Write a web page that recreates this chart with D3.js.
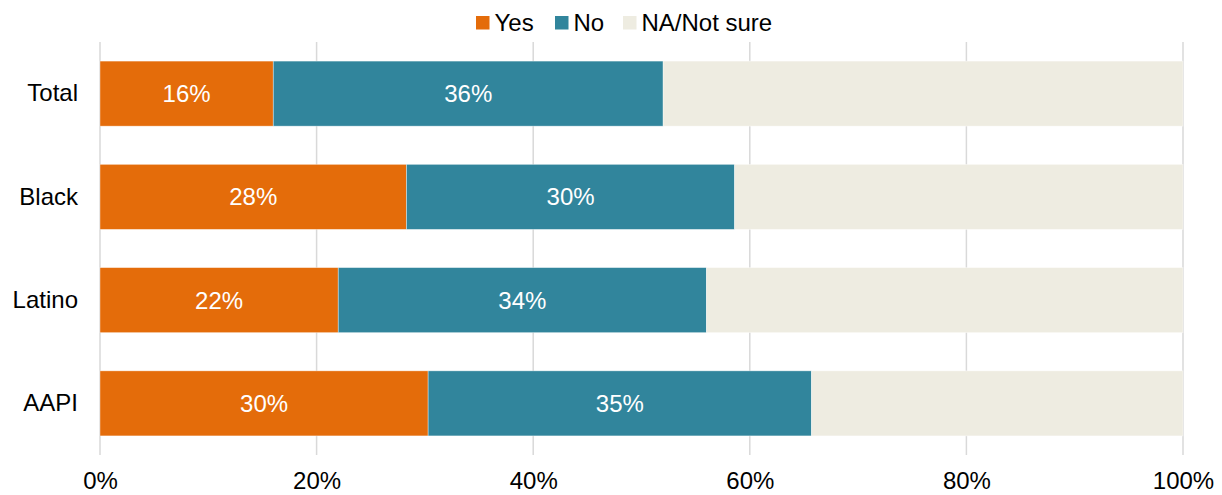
<!DOCTYPE html>
<html>
<head>
<meta charset="utf-8">
<script src="https://cdn.jsdelivr.net/npm/d3@7"></script>
<style>
  html, body { margin: 0; padding: 0; background: #fff; }
  svg { display: block; font-family: "Liberation Sans", Arial, sans-serif; }
</style>
</head>
<body>
<svg id="chart" width="1222" height="495"></svg>
<script>
// Survey responses by group (percent of respondents)
const categories = ["Total", "Black", "Latino", "AAPI"];
const seriesNames = ["Yes", "No", "NA/Not sure"];
const yesValues = [16, 28.3, 22, 30.3];
const noValues = [36, 30.3, 34, 35.4];
const naValues = categories.map((c, i) => 100 - yesValues[i] - noValues[i]);
const xTicks = [0, 20, 40, 60, 80, 100];
const colors = ["#E46C0A", "#31859C", "#EEECE1"];

const svg = d3.select("#chart");
const margin = { left: 100, right: 39, top: 42, bottom: 40 };
const W = 1222, H = 495;
const fontSize = 24;

const x = d3.scaleLinear().domain([0, 100]).range([margin.left, W - margin.right]);
const y = d3.scaleBand().domain(categories)
  .range([margin.top, H - margin.bottom])
  .paddingInner(0.37).paddingOuter(0.185);

// Vertical gridlines
svg.append("g")
  .selectAll("line")
  .data(xTicks)
  .join("line")
  .attr("x1", d => x(d)).attr("x2", d => x(d))
  .attr("y1", margin.top).attr("y2", H - margin.bottom)
  .attr("stroke", "#d9d9d9")
  .attr("stroke-width", 1.5);

// Stack rows
const rows = categories.map((c, i) => ({ cat: c, Yes: yesValues[i], No: noValues[i], "NA/Not sure": naValues[i] }));
const stack = d3.stack().keys(seriesNames)(rows);

const layers = svg.append("g").selectAll("g")
  .data(stack)
  .join("g")
  .attr("fill", (d, i) => colors[i]);

layers.selectAll("rect")
  .data(d => d)
  .join("rect")
  .attr("x", d => x(d[0]))
  .attr("width", d => x(d[1]) - x(d[0]))
  .attr("y", d => y(d.data.cat))
  .attr("height", y.bandwidth())
  .attr("stroke", "#ffffff")
  .attr("stroke-opacity", 0.5)
  .attr("stroke-width", 0.75);

// Value labels on Yes and No segments
stack.slice(0, 2).forEach(layer => {
  svg.append("g").selectAll("text")
    .data(layer)
    .join("text")
    .attr("x", d => (x(d[0]) + x(d[1])) / 2)
    .attr("y", d => y(d.data.cat) + y.bandwidth() / 2)
    .attr("dy", "0.35em")
    .attr("text-anchor", "middle")
    .attr("fill", "#ffffff")
    .attr("font-size", fontSize)
    .text(d => Math.round(d[1] - d[0]) + "%");
});

// Category labels
const yAxis = d3.axisLeft(y).tickSize(0).tickPadding(22);
svg.append("g")
  .attr("transform", `translate(${margin.left},0)`)
  .call(yAxis)
  .call(g => g.select(".domain").remove())
  .selectAll("text")
  .attr("font-size", fontSize)
  .attr("font-family", "Liberation Sans, Arial, sans-serif")
  .attr("fill", "#000");

// Percentage axis
const xAxis = d3.axisBottom(x).tickValues(xTicks).tickFormat(d => d + "%").tickSize(0).tickPadding(17);
svg.append("g")
  .attr("transform", `translate(0,${H - margin.bottom})`)
  .call(xAxis)
  .call(g => g.select(".domain").remove())
  .selectAll("text")
  .attr("font-size", fontSize)
  .attr("font-family", "Liberation Sans, Arial, sans-serif")
  .attr("fill", "#000");

// Legend
const legendX = [476, 555, 623];
const legend = svg.append("g").selectAll("g")
  .data(seriesNames)
  .join("g")
  .attr("transform", (d, i) => `translate(${legendX[i]},16)`);
legend.append("rect")
  .attr("width", 13.5).attr("height", 13.5)
  .attr("fill", (d, i) => colors[i]);
legend.append("text")
  .attr("x", 18.5).attr("y", 6.5).attr("dy", "0.35em")
  .attr("font-size", fontSize)
  .attr("fill", "#000")
  .text(d => d);
</script>
</body>
</html>
